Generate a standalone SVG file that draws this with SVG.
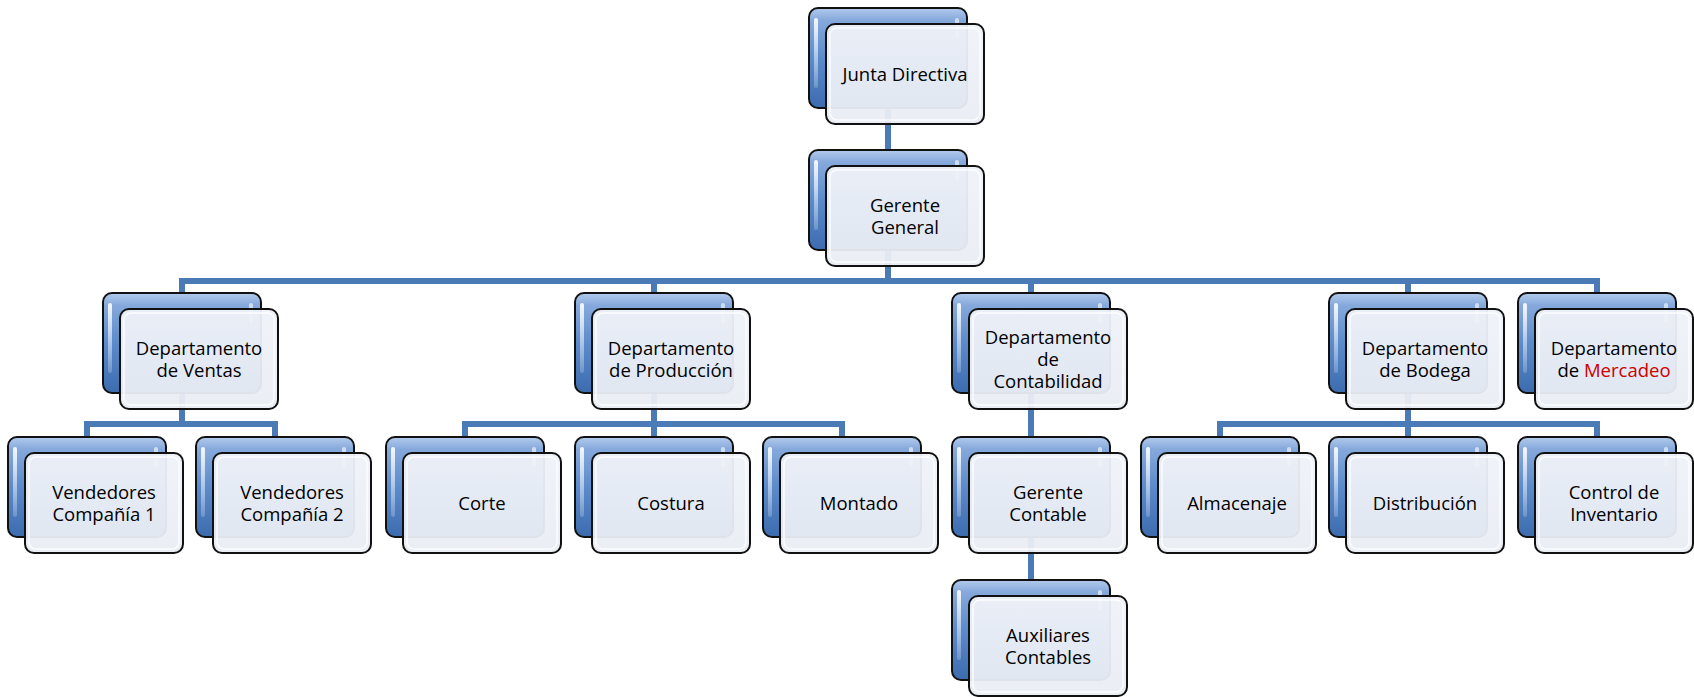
<svg xmlns="http://www.w3.org/2000/svg" xmlns:xlink="http://www.w3.org/1999/xlink" width="1694" height="697" viewBox="0 0 1694 697">
<style>
.conn{fill:none;stroke:#4a7bb7;stroke-width:6;stroke-linecap:butt;stroke-linejoin:miter}
.lbl{font-family:"Open Sans","Liberation Sans",Arial,sans-serif;font-size:18.5px;fill:#000;text-anchor:middle}
.red{fill:#cc0000}
</style>
<defs>
<linearGradient id="backGrad" x1="0" y1="0" x2="0" y2="1">
<stop offset="0" stop-color="#b3cbec"/>
<stop offset="0.12" stop-color="#86a9dc"/>
<stop offset="0.5" stop-color="#5b8bcb"/>
<stop offset="1" stop-color="#3c6cae"/>
</linearGradient>
<linearGradient id="hlGrad" x1="0" y1="0" x2="0" y2="1">
<stop offset="0" stop-color="#ffffff" stop-opacity="0.9"/>
<stop offset="1" stop-color="#ffffff" stop-opacity="0.2"/>
</linearGradient>
<linearGradient id="frontGrad" x1="0" y1="0" x2="0" y2="1">
<stop offset="0" stop-color="#eff2f8"/>
<stop offset="1" stop-color="#e9edf4"/>
</linearGradient>
<g id="card">
<rect x="0" y="0" width="158" height="100" rx="9" fill="url(#backGrad)" stroke="#111" stroke-width="2"/>
<rect x="5" y="10" width="4" height="70" rx="2" fill="url(#hlGrad)"/>
<rect x="146" y="10" width="4" height="20" rx="2" fill="#ffffff" opacity="0.6"/>
<rect x="17" y="16" width="158" height="100" rx="9" fill="url(#frontGrad)" fill-opacity="0.95" stroke="#111" stroke-width="2"/>
<rect x="21" y="20" width="150" height="92" rx="7" fill="none" stroke="#ffffff" stroke-opacity="0.85" stroke-width="1.5"/>
</g>
</defs>
<rect width="1694" height="697" fill="#ffffff"/>
<g id="connectors">
<path class="conn" d="M888,108 V150"/>
<path class="conn" d="M888,250 V281"/>
<path class="conn" d="M182,293 V281 H1597 V293"/>
<path class="conn" d="M654,281 V293 M1031,281 V293 M1408,281 V293"/>
<path class="conn" d="M182,393 V424 M87,437 V424 H275 V437"/>
<path class="conn" d="M654,393 V437 M465,437 V424 H842 V437"/>
<path class="conn" d="M1031,393 V437 M1031,537 V580"/>
<path class="conn" d="M1408,393 V437 M1220,437 V424 H1597 V437"/>
</g>
<g id="junta" transform="translate(809,8)"><use href="#card"/><text class="lbl" x="96" y="72.5">Junta Directiva</text></g>
<g id="gerente-general" transform="translate(809,150)"><use href="#card"/><text class="lbl" x="96" y="61.5">Gerente</text><text class="lbl" x="96" y="83.5">General</text></g>
<g id="dep-ventas" transform="translate(103,293)"><use href="#card"/><text class="lbl" x="96" y="61.5">Departamento</text><text class="lbl" x="96" y="83.5">de Ventas</text></g>
<g id="dep-produccion" transform="translate(575,293)"><use href="#card"/><text class="lbl" x="96" y="61.5">Departamento</text><text class="lbl" x="96" y="83.5">de Producción</text></g>
<g id="dep-contabilidad" transform="translate(952,293)"><use href="#card"/><text class="lbl" x="96" y="50.5">Departamento</text><text class="lbl" x="96" y="72.5">de</text><text class="lbl" x="96" y="94.5">Contabilidad</text></g>
<g id="dep-bodega" transform="translate(1329,293)"><use href="#card"/><text class="lbl" x="96" y="61.5">Departamento</text><text class="lbl" x="96" y="83.5">de Bodega</text></g>
<g id="dep-mercadeo" transform="translate(1518,293)"><use href="#card"/><text class="lbl" x="96" y="61.5">Departamento</text><text class="lbl" x="96" y="83.5">de <tspan class="red">Mercadeo</tspan></text></g>
<g id="vendedores-1" transform="translate(8,437)"><use href="#card"/><text class="lbl" x="96" y="61.5">Vendedores</text><text class="lbl" x="96" y="83.5">Compañía 1</text></g>
<g id="vendedores-2" transform="translate(196,437)"><use href="#card"/><text class="lbl" x="96" y="61.5">Vendedores</text><text class="lbl" x="96" y="83.5">Compañía 2</text></g>
<g id="corte" transform="translate(386,437)"><use href="#card"/><text class="lbl" x="96" y="72.5">Corte</text></g>
<g id="costura" transform="translate(575,437)"><use href="#card"/><text class="lbl" x="96" y="72.5">Costura</text></g>
<g id="montado" transform="translate(763,437)"><use href="#card"/><text class="lbl" x="96" y="72.5">Montado</text></g>
<g id="gerente-contable" transform="translate(952,437)"><use href="#card"/><text class="lbl" x="96" y="61.5">Gerente</text><text class="lbl" x="96" y="83.5">Contable</text></g>
<g id="almacenaje" transform="translate(1141,437)"><use href="#card"/><text class="lbl" x="96" y="72.5">Almacenaje</text></g>
<g id="distribucion" transform="translate(1329,437)"><use href="#card"/><text class="lbl" x="96" y="72.5">Distribución</text></g>
<g id="control-inventario" transform="translate(1518,437)"><use href="#card"/><text class="lbl" x="96" y="61.5">Control de</text><text class="lbl" x="96" y="83.5">Inventario</text></g>
<g id="auxiliares" transform="translate(952,580)"><use href="#card"/><text class="lbl" x="96" y="61.5">Auxiliares</text><text class="lbl" x="96" y="83.5">Contables</text></g>
</svg>
